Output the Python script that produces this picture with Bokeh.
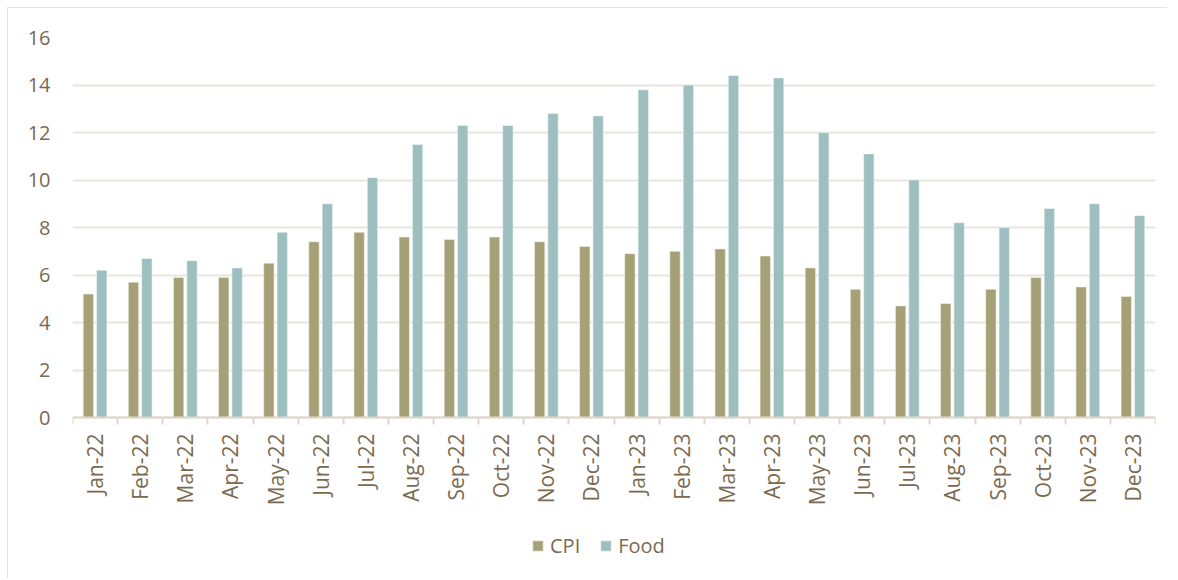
import math
from bokeh.plotting import figure
from bokeh.models import (ColumnDataSource, Range1d, LinearAxis, FixedTicker, Legend, LegendItem)
from bokeh.transform import dodge
from bokeh.embed import file_html
from bokeh.resources import INLINE

months = ["Jan-22", "Feb-22", "Mar-22", "Apr-22", "May-22", "Jun-22", "Jul-22", "Aug-22",
          "Sep-22", "Oct-22", "Nov-22", "Dec-22", "Jan-23", "Feb-23", "Mar-23", "Apr-23",
          "May-23", "Jun-23", "Jul-23", "Aug-23", "Sep-23", "Oct-23", "Nov-23", "Dec-23"]
cpi = [5.2, 5.7, 5.9, 5.9, 6.5, 7.4, 7.8, 7.6, 7.5, 7.6, 7.4, 7.2,
       6.9, 7.0, 7.1, 6.8, 6.3, 5.4, 4.7, 4.8, 5.4, 5.9, 5.5, 5.1]
food = [6.2, 6.7, 6.6, 6.3, 7.8, 9.0, 10.1, 11.5, 12.3, 12.3, 12.8, 12.7,
        13.8, 14.0, 14.4, 14.3, 12.0, 11.1, 10.0, 8.2, 8.0, 8.8, 9.0, 8.5]
y_ticks = [0, 2, 4, 6, 8, 10, 12, 14, 16]

TEXT = "#7a6a4f"
GRID = "#e8e5dd"
AXIS = "#dcd8ce"
FONT = "Open Sans"

n = len(months)
centers = [i + 0.5 for i in range(n)]
bounds = list(range(n + 1))
src = ColumnDataSource(dict(x=centers, month=months, cpi=cpi, food=food))

# frame extends below zero so the month labels and legend sit inside it
p = figure(width=1160, height=571, x_range=Range1d(0, n), y_range=Range1d(-6.4, 16),
           output_backend="svg", toolbar_location=None, x_axis_location=None,
           min_border_left=64, min_border_right=13, min_border_top=29, min_border_bottom=10)
p.outline_line_color = None
p.styles = {"margin-top": "7px", "margin-left": "7px",
            "border-top": "1px solid #e6e3da", "border-left": "1px solid #e6e3da"}

r1 = p.vbar(x=dodge("x", -0.148), top="cpi", width=0.23, source=src,
            fill_color="#a6a077", line_color="#f4f3ec", line_width=0.6)
r2 = p.vbar(x=dodge("x", 0.148), top="food", width=0.23, source=src,
            fill_color="#9dbfbf", line_color="#f1f6f5", line_width=0.6)

# y axis
yax = p.yaxis[0]
yax.ticker = FixedTicker(ticks=y_ticks)
yax.axis_line_color = None
yax.major_tick_line_color = None
yax.minor_tick_line_color = None
yax.major_label_text_font = FONT
yax.major_label_text_font_size = "20px"
yax.major_label_text_color = TEXT
yax.major_label_standoff = 16

p.ygrid.ticker = FixedTicker(ticks=y_ticks)
p.ygrid.grid_line_color = GRID
p.ygrid.grid_line_width = 2
p.xgrid.grid_line_color = None

# x axis at y=0: month labels at centres, tick marks at category boundaries (minor ticks)
xax = LinearAxis(ticker=FixedTicker(ticks=centers, minor_ticks=bounds), fixed_location=0,
                 major_label_overrides={c: m for c, m in zip(centers, months)},
                 axis_line_color=AXIS, axis_line_width=2,
                 major_tick_line_color=None, major_tick_in=0, major_tick_out=7,
                 minor_tick_line_color=AXIS, minor_tick_line_width=2,
                 minor_tick_in=0, minor_tick_out=7,
                 major_label_orientation=math.pi / 2,
                 major_label_text_font=FONT, major_label_text_font_size="21px",
                 major_label_text_color=TEXT, major_label_standoff=9)
p.add_layout(xax, "below")

legend = Legend(items=[LegendItem(label="CPI", renderers=[r1]), LegendItem(label="Food", renderers=[r2])],
                orientation="horizontal", location=(459, 10), border_line_color=None,
                background_fill_color=None, glyph_width=13, glyph_height=13, label_standoff=6,
                spacing=19, label_text_font=FONT, label_text_font_size="20px",
                label_text_color=TEXT, margin=0, padding=6)
p.add_layout(legend, "center")

open("out.html", "w").write(file_html(p, INLINE))
